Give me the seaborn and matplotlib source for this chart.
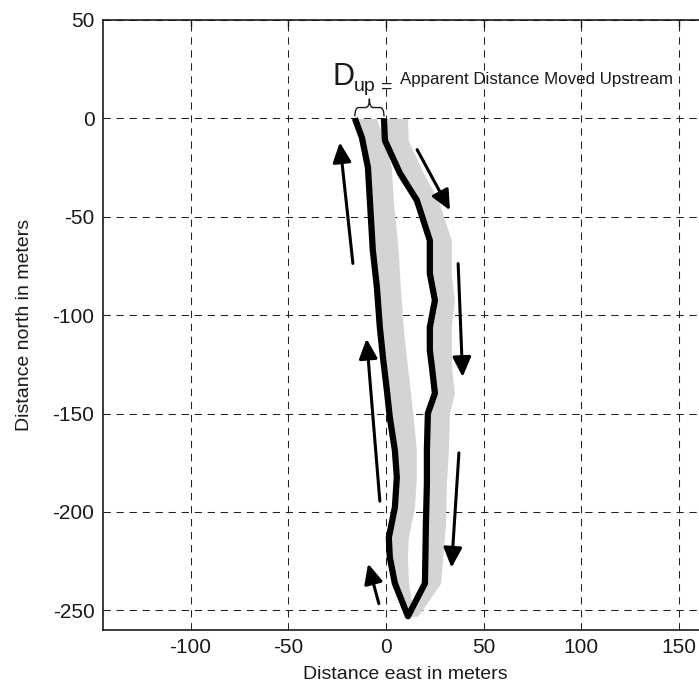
import numpy as np
import pandas as pd
import matplotlib
matplotlib.use("Agg")
import matplotlib.pyplot as plt
import seaborn as sns
from matplotlib.path import Path
from matplotlib.patches import PathPatch

# ---- data (meters) ----
# downstream leg (east side), top to bottom
down_east = [-1.0, -0.5, 7.2, 15.9, 22.5, 22.5, 25.1, 22.5, 22.5, 23.6, 25.1, 21.5, 21.0, 21.0, 20.5, 20.0, 11.3]
down_north = [0.0, -11.2, -27.9, -41.7, -62.0, -78.8, -92.5, -106.2, -117.9, -126.5, -139.7, -149.9, -168.7, -185.5, -205.8, -236.3, -253.0]
down_band = [12, 12, 12, 11, 11, 11, 10, 11, 11, 10, 10, 11, 11, 10, 10, 8, 5]

# upstream leg (west side), bottom to top
up_east = [11.3, 4.6, 2.0, 1.5, 4.6, 5.6, 4.6, 2.0, 0.5, -1.5, -3.1, -4.6, -6.7, -8.2, -9.2, -12.3, -15.9]
up_north = [-253.0, -236.3, -223.0, -213.0, -197.7, -182.4, -168.7, -151.9, -138.2, -121.4, -106.2, -85.9, -67.0, -41.7, -24.9, -9.7, 0.0]
up_band = [3, 7, 9, 10, 10, 10, 11, 12, 12, 12, 12, 12, 13, 12, 12, 11, 11]

# direction arrows: tail -> head
arrow_tail_east = [-16.9, 16.0, 37.0, -3.1, 37.4, -3.6]
arrow_tail_north = [-73.7, -15.9, -73.8, -194.5, -170.0, -246.6]
arrow_head_east = [-23.6, 32.8, 39.3, -9.9, 33.6, -9.1]
arrow_head_north = [-12.2, -46.7, -131.4, -112.0, -228.3, -226.3]

x_ticks = [-100, -50, 0, 50, 100, 150]
y_ticks = [50, 0, -50, -100, -150, -200, -250]

sns.set_theme(style="white")
plt.rcParams["font.family"] = ["Liberation Sans", "DejaVu Sans"]
plt.rcParams["axes.unicode_minus"] = False

fig = plt.figure(figsize=(6.99, 6.99), dpi=100)
ax = fig.add_axes([0.147, 0.0987, 0.866, 0.8727])

# gray scatter bands
ax.fill_betweenx(down_north, down_east, np.add(down_east, down_band),
                 color="#d4d4d4", lw=0, zorder=1)
ax.fill_betweenx(up_north, up_east, np.add(up_east, up_band),
                 color="#d4d4d4", lw=0, zorder=1)

# black track
df = pd.DataFrame({"east": down_east + up_east, "north": down_north + up_north})
sns.lineplot(data=df, x="east", y="north", sort=False, estimator=None,
             color="black", lw=4.5, ax=ax, zorder=3,
             solid_joinstyle="round", solid_capstyle="butt")

# arrows
for te, tn, he, hn in zip(arrow_tail_east, arrow_tail_north, arrow_head_east, arrow_head_north):
    ax.annotate("", xy=(he, hn), xytext=(te, tn),
                arrowprops=dict(arrowstyle="-|>,head_length=0.6,head_width=0.28",
                                color="black", lw=2.2, mutation_scale=20,
                                shrinkA=0, shrinkB=0), zorder=4)

# curly brace over D_up
xl, xr = up_east[-1], down_east[0]
xc = 0.5 * (xl + xr)
y0, ym, yt = 1.0, 5.5, 10.0
q = 2.0
verts = [(xl, y0), (xl, ym), (xl + q, ym),
         (xc - q, ym), (xc, ym), (xc, yt),
         (xc, ym), (xc + q, ym),
         (xr - q, ym), (xr, ym), (xr, y0)]
codes = [Path.MOVETO, Path.CURVE3, Path.CURVE3,
         Path.LINETO, Path.CURVE3, Path.CURVE3,
         Path.CURVE3, Path.CURVE3,
         Path.LINETO, Path.CURVE3, Path.CURVE3]
ax.add_patch(PathPatch(Path(verts, codes), fill=False, ec="k", lw=1.0, zorder=4))

ax.text(-27.3, 16.8, "D", fontsize=22, va="baseline", ha="left", color="k")
ax.text(-16.4, 13.9, "up", fontsize=14, va="baseline", ha="left", color="k")
ax.text(0.3, 13.5, "=", fontsize=14, va="baseline", ha="center", color="k")
ax.text(7.2, 17.3, "Apparent Distance Moved Upstream", fontsize=12.2,
        va="baseline", ha="left", color="k")

ax.set_xlim(-145, 165)
ax.set_ylim(-260, 50)
ax.set_xticks(x_ticks)
ax.set_yticks(y_ticks)
ax.grid(True, color="#222222", linestyle=(0, (7, 5.5)), linewidth=0.75)
ax.set_axisbelow(True)
ax.tick_params(direction="in", length=5, width=1, top=True, right=True,
               labelsize=15, pad=6, colors="k")
for s in ax.spines.values():
    s.set_color("k")
    s.set_linewidth(1.2)

ax.set_xlabel("Distance east in meters", fontsize=14, color="k")
ax.set_ylabel("Distance north in meters", fontsize=14, color="k")
ax.xaxis.set_label_coords(0.5, -0.059)
ax.yaxis.set_label_coords(-0.115, 0.5)

fig.savefig("out.png", dpi=100)
